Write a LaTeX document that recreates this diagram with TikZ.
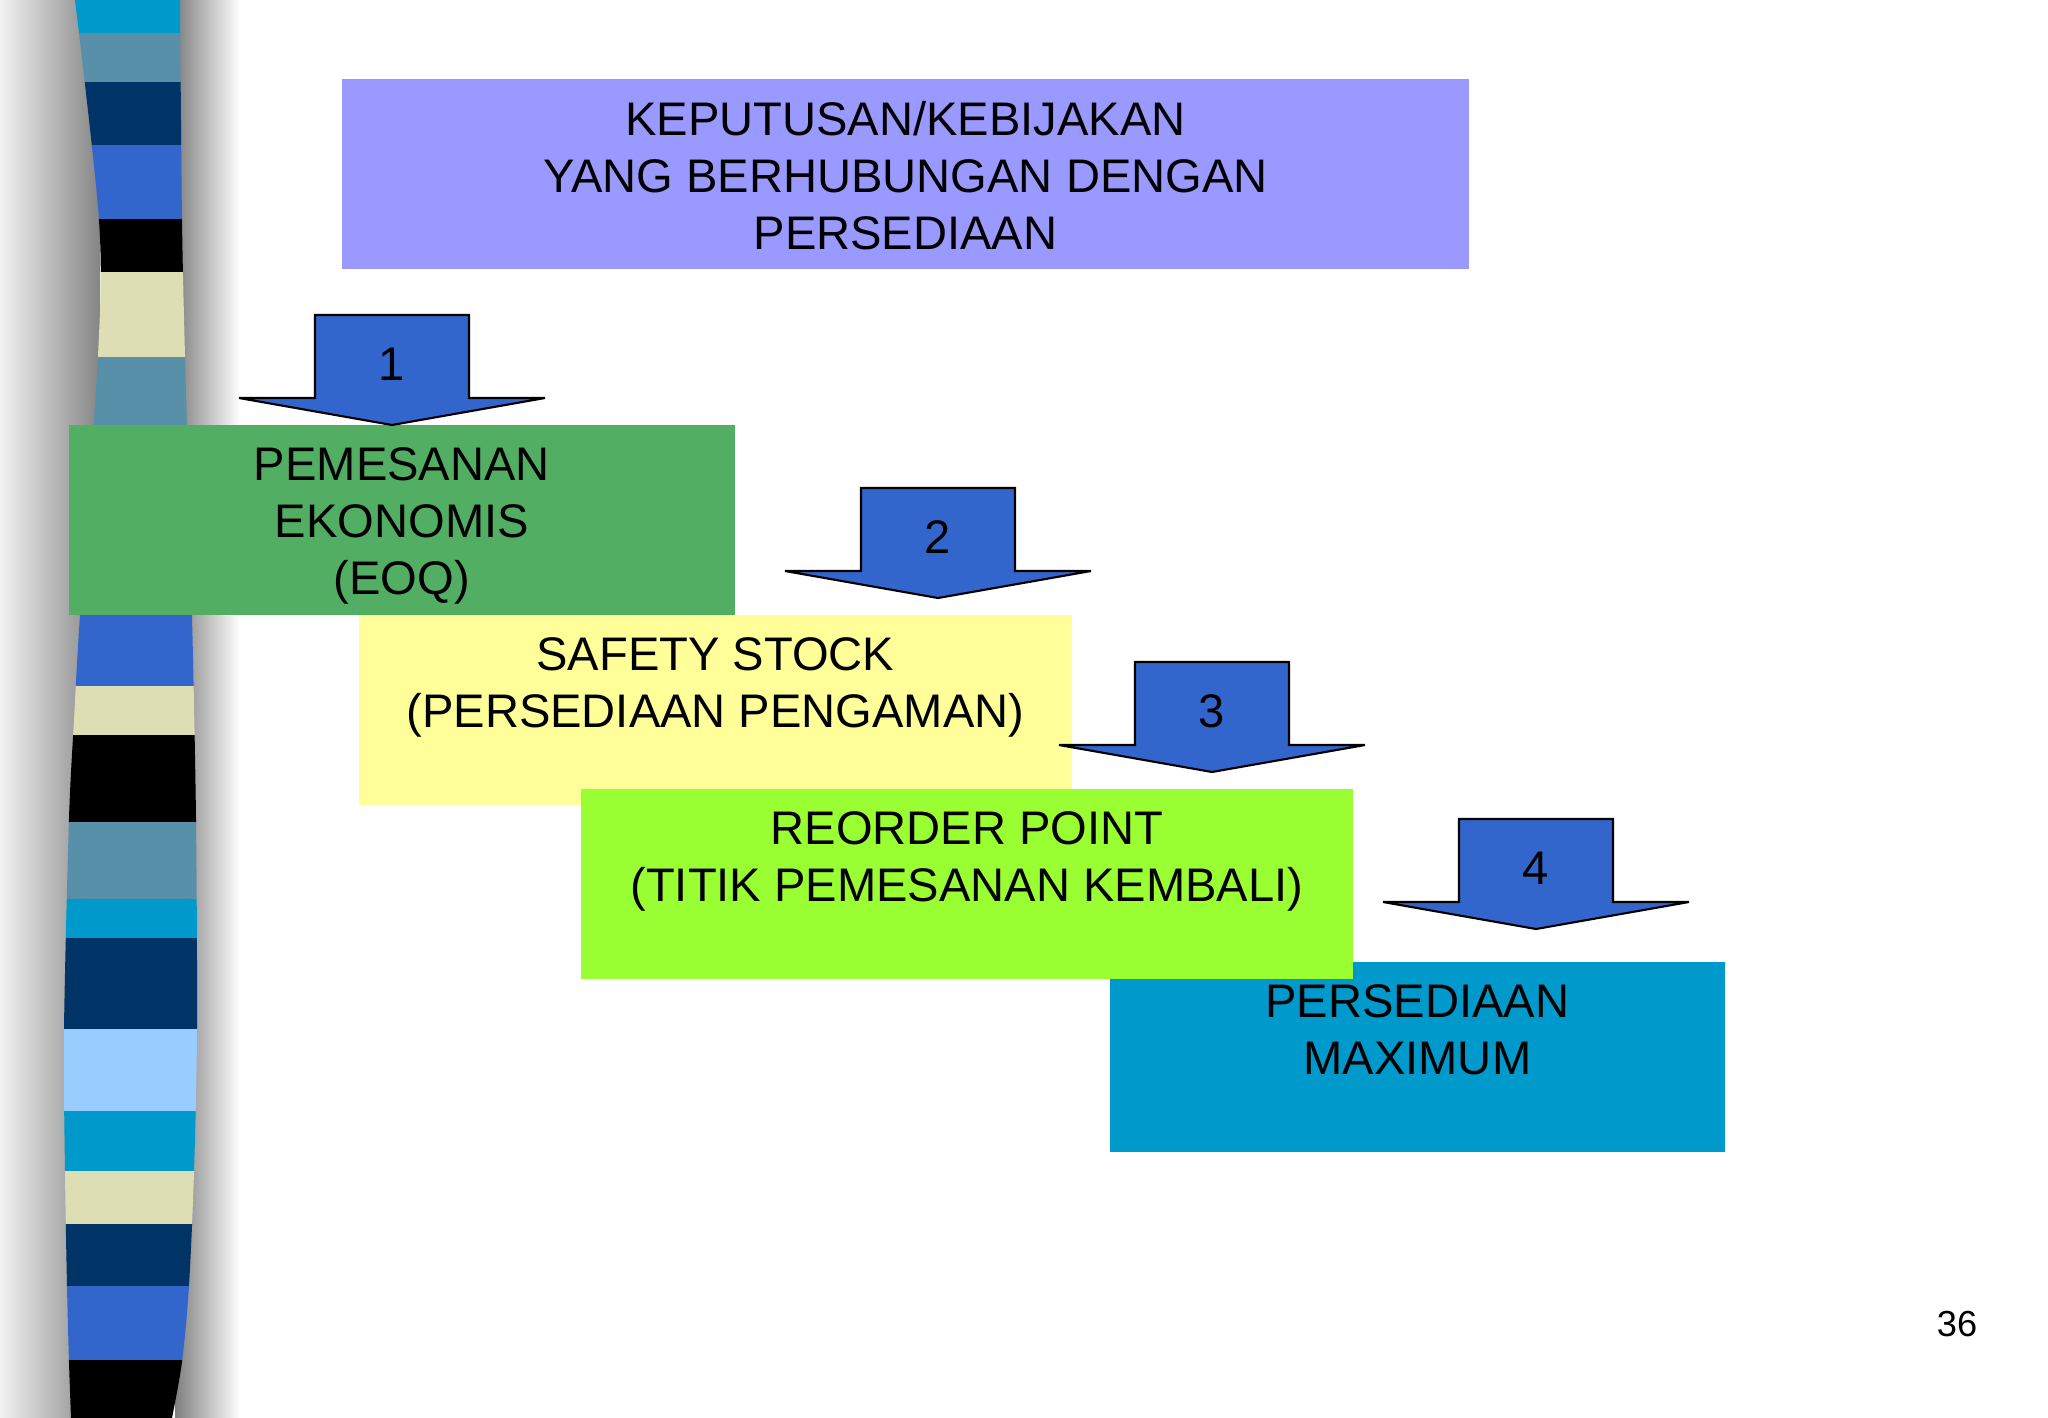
\documentclass[tikz,border=0pt]{standalone}
\usepackage{fontspec}
\setmainfont{Liberation Sans}
\usetikzlibrary{calc,positioning}
\definecolor{bandcyan}{HTML}{0099CC}
\definecolor{bandsteel}{HTML}{5890AA}
\definecolor{bandnavy}{HTML}{003366}
\definecolor{bandroyal}{HTML}{3366CC}
\definecolor{bandcream}{HTML}{DEDEB4}
\definecolor{bandsky}{HTML}{99CCFF}
\definecolor{boxviolet}{HTML}{9999FF}
\definecolor{boxgreen}{HTML}{52AE62}
\definecolor{boxyellow}{HTML}{FFFF99}
\definecolor{boxlime}{HTML}{99FF33}
\definecolor{boxblue}{HTML}{0099CC}
\definecolor{arrowblue}{HTML}{3366CC}
\newcommand*{\StripeBands}[1]{% #1 = list of top/bottom/color
\foreach \ya/\yb/\bandcol in {#1} {
\fill [\bandcol] (0,\ya) rectangle (260,\yb);
}%
}
\newcommand*{\StepArrow}[3]{% #1 = name, #2 = tip, #3 = number
\coordinate (#1tip) at #2;
\draw [steparrow, shift={(#1tip)}]
(0,0) -- (-153,-27) -- (-77,-27) -- (-77,-110) -- (77,-110) -- (77,-27) -- (153,-27) -- cycle;
\node [stepnum] (#1num) at ($(#1tip)+(0,-61)$) {#3};
}
\tikzset{
box/.style={draw=none, inner sep=0pt, minimum height=1.9cm, anchor=north west},
boxtext/.style={inner sep=0pt, align=center, font=\fontsize{13.4}{16.2}\selectfont},
steparrow/.style={fill=arrowblue, draw=black, line width=0.6pt, line join=miter},
stepnum/.style={inner sep=0pt, font=\fontsize{13.4}{16.2}\selectfont},
}

\begin{document}
\begin{tikzpicture}[x=0.01cm, y=-0.01cm]
\useasboundingbox (0,0) rectangle (2048,1418);

% shadow of the side stripe
\fill [left color=black!5, right color=black!48] (0,0) rectangle (100,1418);
\fill [left color=black!50, right color=white] (175,0) rectangle (240,1418);

\begin{scope}
\clip plot [smooth] coordinates {(75,0) (99,220) (98,356) (80,615) (74,720) (69,819) (64,1030) (65,1172) (67,1286) (69,1362) (71,1418)}
-- plot [smooth] coordinates {(172,1418) (182,1362) (189,1286) (194,1172) (197,1030) (196,819) (192,615) (185,356) (182,220) (180,0)} -- cycle;
\StripeBands{0/33/bandcyan, 33/82/bandsteel, 82/145/bandnavy, 145/219/bandroyal,
219/272/black, 272/357/bandcream, 357/614/bandsteel, 614/686/bandroyal,
686/735/bandcream, 735/822/black, 822/899/bandsteel, 899/938/bandcyan,
938/1029/bandnavy, 1029/1111/bandsky, 1111/1171/bandcyan, 1171/1224/bandcream,
1224/1286/bandnavy, 1286/1360/bandroyal, 1360/1418/black}
\end{scope}

% boxes
\node [box, fill=boxviolet, minimum width=11.27cm] (policy) at (341,78) {};
\node [box, fill=boxgreen, minimum width=6.66cm] (eoq) at (68,424) {};
\node [box, fill=boxyellow, minimum width=7.13cm] (safety) at (358,614) {};
\node [box, fill=boxblue, minimum width=6.15cm] (maxstock) at (1109,961) {};
\node [box, fill=boxlime, minimum width=7.72cm] (reorder) at (580,788) {};

\node [boxtext, below=0.23cm of policy.north] (policytext) {KEPUTUSAN/KEBIJAKAN\\YANG BERHUBUNGAN DENGAN\\PERSEDIAAN};
\node [boxtext, below=0.23cm of eoq.north] (eoqtext) {PEMESANAN\\EKONOMIS\\(EOQ)};
\node [boxtext, below=0.23cm of safety.north] (safetytext) {SAFETY STOCK\\(PERSEDIAAN PENGAMAN)};
\node [boxtext, below=0.23cm of reorder.north] (reordertext) {REORDER POINT\\(TITIK PEMESANAN KEMBALI)};
\node [boxtext, below=0.23cm of maxstock.north] (maxstocktext) {PERSEDIAAN\\MAXIMUM};

% numbered arrows
\StepArrow{a}{(392,425)}{1}
\StepArrow{b}{(938,598)}{2}
\StepArrow{c}{(1212,772)}{3}
\StepArrow{d}{(1536,929)}{4}

\node [inner sep=0pt, font=\fontsize{10.3}{12}\selectfont] (page) at (1957,1324) {36};
\end{tikzpicture}
\end{document}
